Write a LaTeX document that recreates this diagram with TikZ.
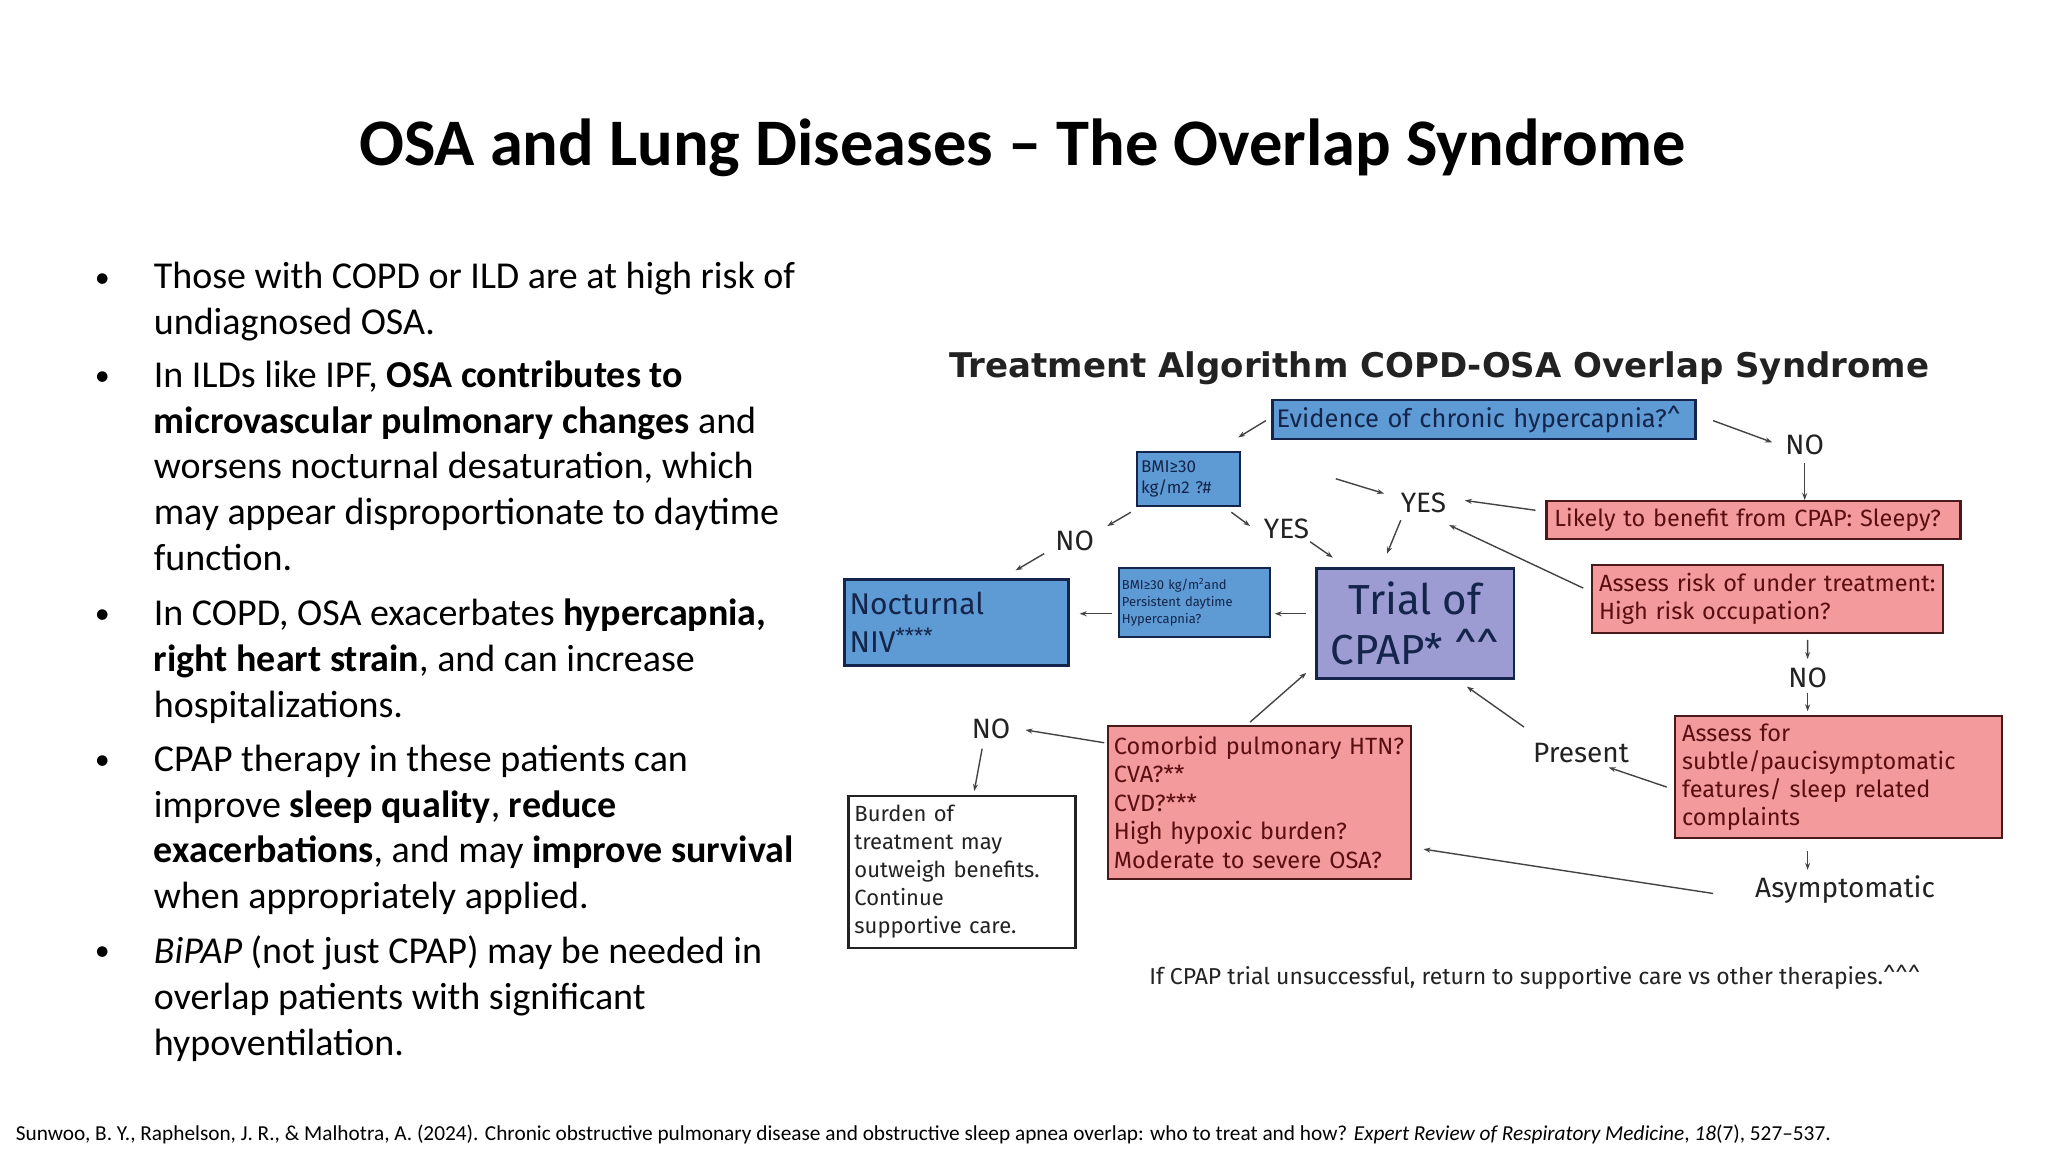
\documentclass[tikz,border=0pt]{standalone}
\usepackage{fontspec}
\setmainfont{Carlito}
\newfontfamily\dia{Fira Sans}
\newfontfamily\diab{DejaVu Sans}
\usetikzlibrary{arrows.meta}
\definecolor{bblue}{HTML}{5E9BD4}
\definecolor{navy}{HTML}{14244A}
\definecolor{lav}{HTML}{9C9BD2}
\definecolor{pinkf}{HTML}{F29A9C}
\definecolor{pinkb}{HTML}{4A1A1A}
\definecolor{redt}{HTML}{5A0E12}
\definecolor{gtxt}{HTML}{222222}
\tikzset{
  box/.style={draw, line width=2.2pt, inner sep=0pt},
  bluebox/.style={box, fill=bblue, draw=navy, text=navy},
  pinkbox/.style={box, fill=pinkf, draw=pinkb, text=redt},
  lbl/.style={font=\dia\fontsize{28}{30}\selectfont, text=gtxt, inner sep=0pt},
  arr/.style={-{Stealth[length=7pt,width=5pt]}, line width=1.4pt, draw=gtxt!85},
  bul/.style={anchor=north west, align=left, inner sep=0pt, font=\fontsize{38}{45.7}\selectfont},
}
\begin{document}
\begin{tikzpicture}[x=0.985pt,y=-0.985pt]
\useasboundingbox (0,0) rectangle (2079,1169.5);
\node[font=\bfseries\fontsize{66.5}{70}\selectfont] (title) at (1038,150) {OSA and Lung Diseases – The Overlap Syndrome};

% bullets
\foreach \yy/\nm in {285/b1,384/b2,626/b3,774/b4,968/b5} \node[font=\fontsize{30}{30}\selectfont] (\nm) at (104,\yy) {•};
\node[bul] (t1) at (156,266) {Those with COPD or ILD are at high risk of\\undiagnosed OSA.};
\node[bul] (t2) at (156,366) {In ILDs like IPF, \textbf{OSA contributes to}\\\textbf{microvascular pulmonary changes} and\\worsens nocturnal desaturation, which\\may appear disproportionate to daytime\\function.};
\node[bul] (t3) at (156,608) {In COPD, OSA exacerbates \textbf{hypercapnia,}\\\textbf{right heart strain}, and can increase\\hospitalizations.};
\node[bul] (t4) at (156,756) {CPAP therapy in these patients can\\improve \textbf{sleep quality}, \textbf{reduce}\\\textbf{exacerbations}, and may \textbf{improve survival}\\when appropriately applied.};
\node[bul] (t5) at (156,950) {\textit{BiPAP} (not just CPAP) may be needed in\\overlap patients with significant\\hypoventilation.};

\node[anchor=west, font=\fontsize{21.3}{22}\selectfont, inner sep=0pt] (foot) at (16,1152) {Sunwoo, B. Y., Raphelson, J. R., \& Malhotra, A. (2024). Chronic obstructive pulmonary disease and obstructive sleep apnea overlap: who to treat and how? \textit{Expert Review of Respiratory Medicine}, \textit{18}(7), 527–537.};

% diagram
\node[font=\diab\bfseries\fontsize{34}{36}\selectfont, text=gtxt] (atitle) at (1461,374) {Treatment Algorithm COPD-OSA Overlap Syndrome};

\node[bluebox, minimum width=423pt, minimum height=39pt, text width=415pt, align=left, font=\dia\fontsize{25.5}{26}\selectfont] (ev) at (1506.5,425.5) {Evidence of chronic hypercapnia?\^{}};
\node[bluebox, minimum width=103pt, minimum height=54pt, text width=95pt, align=left, font=\dia\fontsize{17}{21}\selectfont] (bmi) at (1206.5,486) {BMI≥30\\kg/m2 ?\#};
\node[bluebox, minimum width=224pt, minimum height=86pt, text width=214pt, align=left, font=\dia\fontsize{30}{38}\selectfont] (niv) at (971,632) {Nocturnal\\NIV\textsuperscript{****}};
\node[bluebox, minimum width=151pt, minimum height=69pt, text width=145pt, align=left, font=\dia\fontsize{13}{17}\selectfont] (bmi2) at (1212.5,611.5) {BMI≥30 kg/m\textsuperscript{2}and\\Persistent daytime\\Hypercapnia?};
\node[box, fill=lav, draw=navy, text=navy, minimum width=197pt, minimum height=110pt, align=center, font=\dia\fontsize{42}{50}\selectfont] (trial) at (1436.5,633) {Trial of\\CPAP* \^{}\^{}};
\node[pinkbox, minimum width=414pt, minimum height=38pt, text width=398pt, align=left, font=\dia\fontsize{23.5}{24}\selectfont] (likely) at (1780,528) {Likely to benefit from CPAP: Sleepy?};
\node[pinkbox, minimum width=351pt, minimum height=68pt, text width=337pt, align=left, font=\dia\fontsize{23.5}{28}\selectfont] (risk) at (1794.5,608) {Assess risk of under treatment:\\High risk occupation?};
\node[pinkbox, minimum width=327pt, minimum height=122pt, text width=313pt, align=left, font=\dia\fontsize{23.5}{28}\selectfont] (subtle) at (1866.5,789) {Assess for\\subtle/paucisymptomatic\\features/ sleep related\\complaints};
\node[pinkbox, minimum width=303pt, minimum height=153pt, text width=291pt, align=left, font=\dia\fontsize{23.5}{28.5}\selectfont] (comorb) at (1278.5,814.5) {Comorbid pulmonary HTN?\\CVA?**\\CVD?***\\High hypoxic burden?\\Moderate to severe OSA?};
\node[box, fill=white, draw=gtxt, text=gtxt, minimum width=227pt, minimum height=152pt, text width=215pt, align=left, font=\dia\fontsize{22}{28}\selectfont] (burden) at (976.5,885) {Burden of\\treatment may\\outweigh benefits.\\Continue\\supportive care.};

\node[lbl] (no1) at (1832,452) {NO};
\node[lbl] (yes1) at (1445,510) {YES};
\node[lbl] (yes2) at (1306,537) {YES};
\node[lbl] (no2) at (1091,549) {NO};
\node[lbl] (no3) at (1835,688) {NO};
\node[lbl] (no4) at (1006,740) {NO};
\node[lbl] (pres) at (1605,764) {Present};
\node[lbl] (asym) at (1873,903) {Asymptomatic};
\node[font=\dia\fontsize{23}{24}\selectfont, text=gtxt] (note) at (1558,992) {If CPAP trial unsuccessful, return to supportive care vs other therapies.\^{}\^{}\^{}};

% arrows
\coordinate (e1) at (1285,427); \coordinate (e2) at (1257,444);
\coordinate (e3) at (1739,427); \coordinate (e4) at (1799,449);
\coordinate (f1) at (1356,486); \coordinate (f2) at (1405,501);
\draw[arr] (e1) -- (e2);
\draw[arr] (e3) -- (e4);
\draw[arr] (no1.south) ++(0,8) coordinate (n1s) -- (likely.north -| n1s);
\draw[arr] (likely.west) ++(-10,-10) coordinate (l1) -- (1487,508) coordinate (l2);
\draw[arr] (risk.west) ++(-8,-11) coordinate (r1) -- (1471,533) coordinate (r2);
\draw[arr] (risk.south) ++(40.5,6) coordinate (r3) -- (1835,669) coordinate (r4);
\draw[arr] (1835,703) coordinate (n3) -- (1835,722) coordinate (n3e);
\draw[arr] (f1) -- (f2);
\draw[arr] (1422,528) coordinate (y1) -- (1408,562) coordinate (y1e);
\draw[arr] (1148,520) coordinate (b1s) -- (1124,534) coordinate (b1e);
\draw[arr] (1250,520) coordinate (b2s) -- (1269,534) coordinate (b2e);
\draw[arr] (1330,550) coordinate (y2s) -- (1353,566) coordinate (y2e);
\draw[arr] (1060,562) coordinate (n2s) -- (1031,579) coordinate (n2e);
\draw[arr] (1326,623) coordinate (t1s) -- (1294,623) coordinate (t1e);
\draw[arr] (1129,623) coordinate (t2s) -- (1096,623) coordinate (t2e);
\draw[arr] (1269,733) coordinate (c1s) -- (1326,683) coordinate (c1e);
\draw[arr] (1547,738) coordinate (p1s) -- (1489,697) coordinate (p1e);
\draw[arr] (1692,799) coordinate (s1s) -- (1633,779) coordinate (s1e);
\draw[arr] (1739,907) coordinate (a1s) -- (1445,862) coordinate (a1e);
\draw[arr] (1835,864) coordinate (s2s) -- (1835,883) coordinate (s2e);
\draw[arr] (1121,754) coordinate (c2s) -- (1041,741) coordinate (c2e);
\draw[arr] (997,760) coordinate (n4s) -- (989,803) coordinate (n4e);
\end{tikzpicture}
\end{document}
